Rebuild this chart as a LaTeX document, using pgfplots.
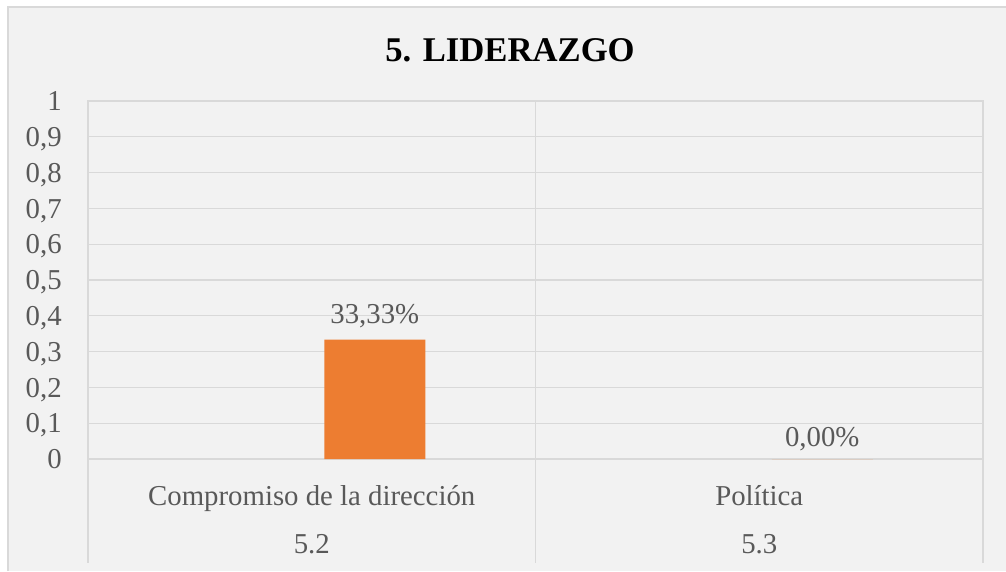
\documentclass[border=0pt]{standalone}
\usepackage{pgfplots}
\pgfplotsset{compat=1.18}
\usepackage{fontspec}
\setmainfont{Liberation Serif}
\definecolor{bgc}{HTML}{F2F2F2}
\definecolor{gridc}{HTML}{D9D9D9}
\definecolor{txtc}{HTML}{595959}
\definecolor{barc}{HTML}{ED7D31}
\begin{document}
\begin{tikzpicture}
\useasboundingbox (0,0) rectangle (754.5pt,428.25pt);
\fill[white] (0,0) rectangle (754.5pt,428.25pt);
\fill[bgc] (6pt,0) rectangle (754.5pt,423pt);
\draw[gridc, line width=1pt] (6pt,0) -- (6pt,423pt) -- (754.5pt,423pt);
\node[font=\fontsize{26}{31}\selectfont\bfseries, text=black, anchor=base, inner sep=0pt] at (382.5pt,381.75pt) {5. LIDERAZGO};
\begin{axis}[
  at={(66pt,84pt)}, anchor=south west,
  scale only axis, width=671.25pt, height=268.5pt,
  xmin=-0.5, xmax=1.5, ymin=0, ymax=1,
  ytick={0,0.1,...,1.01},
  xtick={0,1},
  xticklabels={Compromiso de la dirección, Política},
  extra x ticks={0,1},
  extra x tick labels={5.2,5.3},
  extra x tick style={xticklabel style={yshift=-36pt}, grid=none},
  major tick length=0pt,
  axis line style={gridc, line width=0.8pt},
  ymajorgrids, grid style={gridc, line width=0.8pt},
  xmajorgrids=false,
  tick label style={font=\fontsize{21.6}{26}\selectfont, text=txtc},
  yticklabel style={/pgf/number format/.cd, use comma, fixed, assume math mode=true, /tikz/.cd, anchor=base east, inner sep=0pt, xshift=-19.5pt, yshift=-7.3pt},
  xticklabel style={anchor=base, inner sep=0pt, yshift=-34.5pt},
  axis background/.style={fill=bgc},
  clip=false,
]
\addplot[ybar, bar width=75.75pt, bar shift=47.25pt, fill=barc, draw=none] coordinates {(0,0.3333) (1,0)};
\node[anchor=base, inner sep=0pt, font=\fontsize{21.6}{26}\selectfont, text=txtc, xshift=47.25pt, yshift=12pt] at (axis cs:0,0.3333) {33,33\%};
\node[anchor=base, inner sep=0pt, font=\fontsize{21.6}{26}\selectfont, text=txtc, xshift=47.25pt, yshift=9.75pt] at (axis cs:1,0) {0,00\%};
\draw[gridc, line width=0.8pt] (axis cs:-0.5,0) -- ([yshift=-78pt]axis cs:-0.5,0);
\draw[gridc, line width=0.8pt] (axis cs:0.5,1) -- ([yshift=-78pt]axis cs:0.5,0);
\draw[gridc, line width=0.8pt] (axis cs:1.5,0) -- ([yshift=-78pt]axis cs:1.5,0);
\end{axis}
\end{tikzpicture}
\end{document}
